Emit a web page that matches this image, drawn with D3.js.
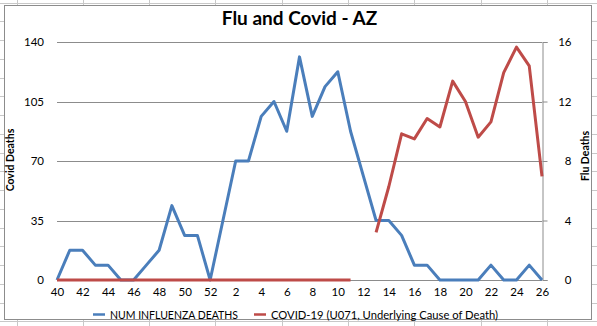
<!DOCTYPE html>
<html>
<head>
<meta charset="utf-8">
<script src="https://cdn.jsdelivr.net/npm/d3@7"></script>
<style>
  html, body { margin: 0; padding: 0; background: #fff; }
  svg { display: block; font-family: Lato, "Open Sans", sans-serif; }
</style>
</head>
<body>
<svg id="chart" width="597" height="326"></svg>
<script>
// Week numbers across the season (week 40 of one year through week 26 of the next)
const weeks = [40, 41, 42, 43, 44, 45, 46, 47, 48, 49, 50, 51, 52,
  1, 2, 3, 4, 5, 6, 7, 8, 9, 10, 11, 12, 13, 14, 15, 16, 17, 18, 19, 20, 21, 22, 23, 24, 25, 26];

// Weekly influenza deaths (right axis)
const fluDeaths = [0, 2, 2, 1, 1, 0, 0, 1, 2, 5, 3, 3, 0,
  4, 8, 8, 11, 12, 10, 15, 11, 13, 14, 10, 7, 4, 4, 3, 1, 1, 0, 0, 0, 0, 1, 0, 0, 1, 0];

// Weekly COVID-19 deaths (left axis); week 12 not reported
const covidDeaths = [0, 0, 0, 0, 0, 0, 0, 0, 0, 0, 0, 0, 0,
  0, 0, 0, 0, 0, 0, 0, 0, 0, 0, 0, null, 28, 55, 86, 83, 95, 90, 117, 105, 84, 93, 122, 137, 126, 61];

const leftTicks = [0, 35, 70, 105, 140];
const rightTicks = [0, 4, 8, 12, 16];
const xTickWeeks = [40, 42, 44, 46, 48, 50, 52, 2, 4, 6, 8, 10, 12, 14, 16, 18, 20, 22, 24, 26];

const seriesNames = ["NUM INFLUENZA DEATHS", "COVID-19 (U071, Underlying Cause of Death)"];
const colors = ["#4a7ebb", "#be4b48"];

const W = 597, H = 326;
const svg = d3.select("#chart");

// Worksheet cells showing around the chart object
const sheet = svg.append("g").attr("stroke", "#c8c8c8").attr("stroke-width", 1);
d3.range(16.5, W, 66.3).forEach(x => {
  sheet.append("line").attr("x1", Math.round(x) + 0.5).attr("x2", Math.round(x) + 0.5).attr("y1", 0).attr("y2", H);
});
d3.range(2.5, H, 18.75).forEach(y => {
  sheet.append("line").attr("x1", 0).attr("x2", W).attr("y1", Math.round(y) + 0.5).attr("y2", Math.round(y) + 0.5);
});

// Chart area
svg.append("rect").attr("x", 4.5).attr("y", 5.5).attr("width", 587).attr("height", 314)
  .attr("fill", "#fff").attr("stroke", "#8c8c8c").attr("stroke-width", 1);

const plot = { left: 57, right: 542, top: 42, bottom: 280 };

const x = d3.scalePoint().domain(d3.range(weeks.length)).range([plot.left, plot.right]);
const yLeft = d3.scaleLinear().domain([0, 140]).range([plot.bottom, plot.top]);
const yRight = d3.scaleLinear().domain([0, 16]).range([plot.bottom, plot.top]);

// Horizontal gridlines
svg.append("g").selectAll("line").data(leftTicks).join("line")
  .attr("x1", plot.left).attr("x2", plot.right)
  .attr("y1", d => Math.round(yLeft(d)) + 0.5).attr("y2", d => Math.round(yLeft(d)) + 0.5)
  .attr("stroke", "#8c8c8c").attr("stroke-width", 1);

// Left axis labels
const leftAxis = d3.axisLeft(yLeft).tickValues(leftTicks).tickSize(0).tickPadding(0);
const gL = svg.append("g").attr("transform", `translate(${plot.left - 13},0)`).call(leftAxis);
gL.select(".domain").remove();
gL.selectAll("text").attr("font-size", 11.5).attr("fill", "#000").attr("font-family", "Lato, sans-serif");

// Right axis with line and outward ticks
const rightAxis = d3.axisRight(yRight).tickValues(rightTicks).tickSize(5).tickPadding(0);
const gR = svg.append("g").attr("transform", `translate(${plot.right + 0.5},0)`).call(rightAxis);
gR.select(".domain").attr("stroke", "#8c8c8c");
gR.selectAll(".tick line").attr("stroke", "#8c8c8c");
gR.selectAll("text").attr("font-size", 11.5).attr("fill", "#000")
  .attr("text-anchor", "end").attr("x", 29).attr("font-family", "Lato, sans-serif");

// Category axis labels
const xAxis = d3.axisBottom(x).tickValues(xTickWeeks.map(w => weeks.indexOf(w)))
  .tickFormat(i => weeks[i]).tickSize(0).tickPadding(0);
const gX = svg.append("g").attr("transform", `translate(0,${plot.bottom + 8})`).call(xAxis);
gX.select(".domain").remove();
gX.selectAll("text").attr("font-size", 11.5).attr("fill", "#000").attr("font-family", "Lato, sans-serif");

// Series lines
const fluLine = d3.line().x((d, i) => x(i)).y(d => yRight(d));
const covidLine = d3.line().defined(d => d !== null).x((d, i) => x(i)).y(d => yLeft(d));

svg.append("path").datum(fluDeaths).attr("d", fluLine)
  .attr("fill", "none").attr("stroke", colors[0]).attr("stroke-width", 3).attr("stroke-linejoin", "round");
svg.append("path").datum(covidDeaths).attr("d", covidLine)
  .attr("fill", "none").attr("stroke", colors[1]).attr("stroke-width", 3).attr("stroke-linejoin", "round");

// Title
svg.append("text").attr("x", 299.5).attr("y", 25).attr("text-anchor", "middle")
  .attr("font-size", 19).attr("font-weight", "bold").attr("fill", "#000").text("Flu and Covid - AZ");

// Axis titles
svg.append("text").attr("transform", "translate(14,160) rotate(-90)").attr("text-anchor", "middle")
  .attr("font-size", 10.5).attr("font-weight", "bold").attr("fill", "#000").text("Covid Deaths");
svg.append("text").attr("transform", "translate(589,156) rotate(-90)").attr("text-anchor", "middle")
  .attr("font-size", 10.5).attr("font-weight", "bold").attr("fill", "#000").text("Flu Deaths");

// Legend
const legend = svg.append("g").attr("font-size", 11.5).attr("fill", "#000");
const legendX = [93, 254];
const legendTextWidth = [128, 227];
seriesNames.forEach((name, i) => {
  legend.append("line").attr("x1", legendX[i]).attr("x2", legendX[i] + 12)
    .attr("y1", 314.5).attr("y2", 314.5).attr("stroke", colors[i]).attr("stroke-width", 2.5);
  legend.append("text").attr("x", legendX[i] + 17).attr("y", 318.5)
    .attr("textLength", legendTextWidth[i]).attr("lengthAdjust", "spacingAndGlyphs").text(name);
});
</script>
</body>
</html>
